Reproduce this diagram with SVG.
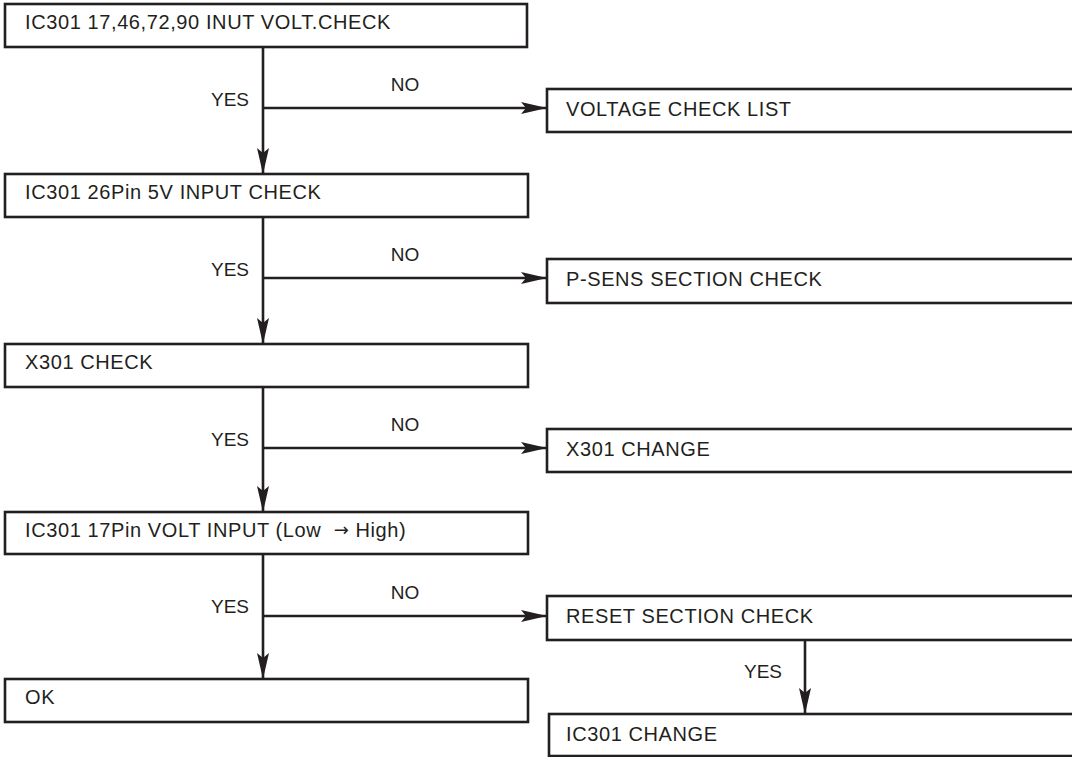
<svg xmlns="http://www.w3.org/2000/svg" width="1072" height="757" viewBox="0 0 1072 757">
<style>
.box{fill:#fff;stroke:#231f20;stroke-width:2.6}
.t{font-family:"Liberation Sans",Arial,sans-serif;font-size:20px;fill:#231f20;letter-spacing:0.6px}
.lbl{font-family:"Liberation Sans",Arial,sans-serif;font-size:19px;fill:#231f20}
.c{stroke:#231f20;stroke-width:2.6;fill:none}
</style>
<defs>
<marker id="ah" markerUnits="userSpaceOnUse" markerWidth="26" markerHeight="12" refX="26" refY="6" orient="auto" viewBox="0 0 26 12">
<path d="M0,0 L26,6 L0,12 L5,6 z" fill="#231f20"/>
</marker>
</defs>
<rect width="1072" height="757" fill="#fff"/>
<g id="connectors">
<line class="c" x1="263" y1="47" x2="263" y2="174" marker-end="url(#ah)"/>
<line class="c" x1="263" y1="108" x2="547" y2="108" marker-end="url(#ah)"/>
<line class="c" x1="263" y1="217" x2="263" y2="344" marker-end="url(#ah)"/>
<line class="c" x1="263" y1="278" x2="547" y2="278" marker-end="url(#ah)"/>
<line class="c" x1="263" y1="387" x2="263" y2="512" marker-end="url(#ah)"/>
<line class="c" x1="263" y1="448" x2="547" y2="448" marker-end="url(#ah)"/>
<line class="c" x1="263" y1="554" x2="263" y2="679" marker-end="url(#ah)"/>
<line class="c" x1="263" y1="616" x2="547" y2="616" marker-end="url(#ah)"/>
<line class="c" x1="805" y1="640" x2="805" y2="714" marker-end="url(#ah)"/>
<text class="lbl" x="249" y="106" text-anchor="end">YES</text>
<text class="lbl" x="405" y="91" text-anchor="middle">NO</text>
<text class="lbl" x="249" y="276" text-anchor="end">YES</text>
<text class="lbl" x="405" y="261" text-anchor="middle">NO</text>
<text class="lbl" x="249" y="446" text-anchor="end">YES</text>
<text class="lbl" x="405" y="431" text-anchor="middle">NO</text>
<text class="lbl" x="249" y="613" text-anchor="end">YES</text>
<text class="lbl" x="405" y="599" text-anchor="middle">NO</text>
<text class="lbl" x="782" y="678" text-anchor="end">YES</text>
</g>
<g id="n1"><rect class="box" x="5" y="4" width="522" height="43"/><text class="t" x="25" y="29">IC301 17,46,72,90 INUT VOLT.CHECK</text></g>
<g id="n2"><rect class="box" x="5" y="174" width="523" height="43"/><text class="t" x="25" y="199">IC301 26Pin 5V INPUT CHECK</text></g>
<g id="n3"><rect class="box" x="5" y="344" width="523" height="43"/><text class="t" x="25" y="369">X301 CHECK</text></g>
<g id="n4"><rect class="box" x="5" y="512" width="523" height="42"/><text class="t" x="25" y="537" xml:space="preserve">IC301 17Pin VOLT INPUT (Low  <tspan font-family="'DejaVu Sans',sans-serif" font-size="18" dy="-1">→</tspan><tspan dy="1"> High)</tspan></text></g>
<g id="n5"><rect class="box" x="5" y="679" width="523" height="43"/><text class="t" x="25" y="704">OK</text></g>
<g id="r1"><rect class="box" x="547" y="89" width="540" height="43"/><text class="t" x="566" y="116">VOLTAGE CHECK LIST</text></g>
<g id="r2"><rect class="box" x="547" y="259" width="540" height="44"/><text class="t" x="566" y="286">P-SENS SECTION CHECK</text></g>
<g id="r3"><rect class="box" x="547" y="429" width="540" height="43"/><text class="t" x="566" y="456">X301 CHANGE</text></g>
<g id="r4"><rect class="box" x="547" y="596" width="540" height="44"/><text class="t" x="566" y="623">RESET SECTION CHECK</text></g>
<g id="r5"><rect class="box" x="549" y="714" width="540" height="42"/><text class="t" x="566" y="741">IC301 CHANGE</text></g>
</svg>
